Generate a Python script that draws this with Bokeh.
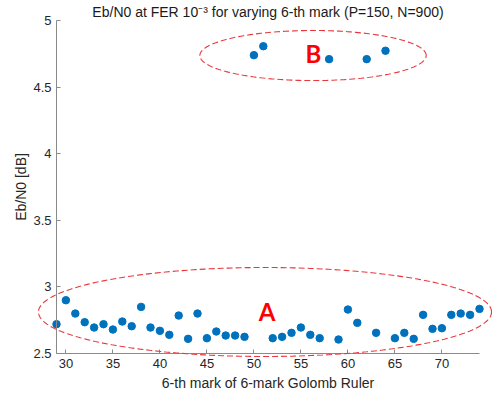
import numpy as np
from bokeh.plotting import figure
from bokeh.models import Range1d, PolyAnnotation, Label, FixedTicker
from bokeh.embed import file_html
from bokeh.resources import INLINE

# ---- data ----
marks = [29, 30, 31, 32, 33, 34, 35, 36, 37, 38, 39, 40, 41, 42, 43, 44, 45, 46, 47, 48, 49,
         50, 51, 52, 53, 54, 55, 56, 57, 58, 59, 60, 61, 62, 63, 64, 65, 66, 67, 68, 69, 70,
         71, 72, 73, 74]
ebn0 = [2.72, 2.90, 2.80, 2.735, 2.695, 2.72, 2.68, 2.74, 2.705, 2.85, 2.695, 2.67, 2.64,
        2.785, 2.61, 2.80, 2.615, 2.665, 2.635, 2.635, 2.625,
        4.74, 4.807, 2.615, 2.625, 2.655, 2.695, 2.64, 2.615, 4.71, 2.605, 2.83, 2.73,
        4.71, 2.655, 4.773, 2.615, 2.655, 2.61, 2.79, 2.685, 2.69, 2.79, 2.80, 2.79, 2.835]
x_ticks = [30, 35, 40, 45, 50, 55, 60, 65, 70]
y_ticks = [2.5, 3, 3.5, 4, 4.5, 5]
x_axis_span = (29, 74)
y_axis_span = (2.5, 5)
title_text = "Eb/N0 at FER 10\u207b\u00b3 for varying 6-th mark (P=150, N=900)"
x_label = "6-th mark of 6-mark Golomb Ruler"
y_label = "Eb/N0 [dB]"

# group annotations: (center x, center y, half width, half height)
ellipse_A = (51.18, 2.8116, 24.1, 0.334)
ellipse_B = (56.29, 4.737, 12.04, 0.188)
label_A = ("A", 51.4, 2.819)
label_B = ("B", 56.34, 4.752)

# ---- layout (pixels) ----
W, H = 492, 397
AX_LEFT, AX_TOP, AX_W, AX_H = 56, 20, 423, 333

FONT = "Liberation Sans"
TXT = "#262626"
AX = "#8a8a8a"

px_x = AX_W / (x_axis_span[1] - x_axis_span[0])
px_y = AX_H / (y_axis_span[1] - y_axis_span[0])
xr = Range1d(x_axis_span[0] - AX_LEFT / px_x, x_axis_span[0] + (W - AX_LEFT) / px_x)
yr = Range1d(y_axis_span[1] - (H - AX_TOP) / px_y, y_axis_span[1] + AX_TOP / px_y)

p = figure(output_backend="svg", toolbar_location=None,
           width=W, height=H, min_border=0,
           x_range=xr, y_range=yr,
           background_fill_color="white", border_fill_color="white")
p.outline_line_color = None
p.xgrid.visible = False
p.ygrid.visible = False

p.xaxis.fixed_location = y_axis_span[0]
p.yaxis.fixed_location = x_axis_span[0]
p.xaxis.bounds = x_axis_span
p.yaxis.bounds = y_axis_span

for ax in (p.xaxis[0], p.yaxis[0]):
    ax.axis_line_color = AX
    ax.major_tick_line_color = AX
    ax.major_tick_in = 4
    ax.major_tick_out = 0
    ax.minor_tick_line_color = None
    ax.major_label_text_font = FONT
    ax.major_label_text_font_size = "13px"
    ax.major_label_text_color = TXT
    ax.axis_label_text_font = FONT
    ax.axis_label_text_font_size = "14px"
    ax.axis_label_text_font_style = "normal"
    ax.axis_label_text_color = TXT

p.xaxis.ticker = FixedTicker(ticks=x_ticks)
p.yaxis.ticker = FixedTicker(ticks=y_ticks)
p.xaxis.axis_label = x_label
p.yaxis.axis_label = y_label
p.xaxis.major_label_standoff = 5
p.xaxis.axis_label_standoff = 4
p.yaxis.major_label_standoff = 5
p.yaxis.axis_label_standoff = 1

p.scatter(marks, ebn0, size=7.5, color="#0072BD", line_color="#0072BD")

t = np.linspace(0, 2 * np.pi, 240)
for cx, cy, a, b in (ellipse_A, ellipse_B):
    p.add_layout(PolyAnnotation(xs=list(cx + a * np.cos(t)), ys=list(cy + b * np.sin(t)),
                                fill_alpha=0, line_color="#E8383D", line_alpha=1.0,
                                line_width=1.1, line_dash="6 3"))

for txt, lx, ly in (label_A, label_B):
    p.add_layout(Label(x=lx, y=ly, text=txt, text_align="center", text_baseline="middle",
                       text_font="Lato", text_font_style="bold", text_font_size="24px",
                       text_color="#FF0000"))

p.add_layout(Label(x=51.5, y=5.064, text=title_text, text_align="center",
                   text_baseline="middle", text_font=FONT, text_font_size="14px",
                   text_color="#1a1a1a"))

open("out.html", "w").write(file_html(p, INLINE))
